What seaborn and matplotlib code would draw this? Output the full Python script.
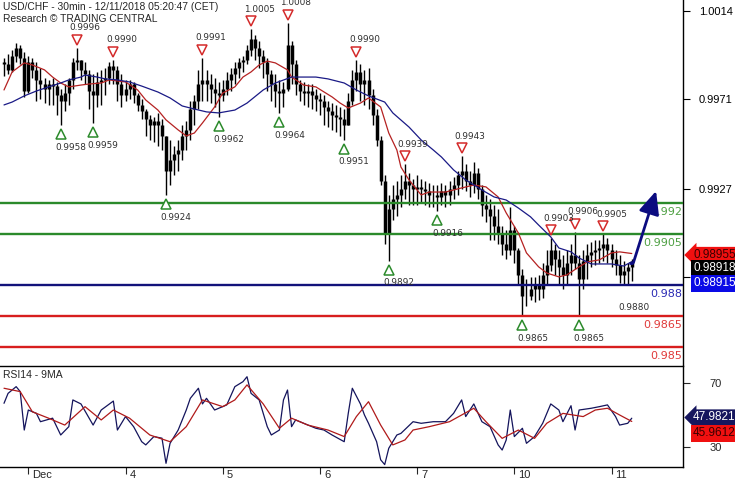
import numpy as np
import matplotlib
matplotlib.use("Agg")
import matplotlib.pyplot as plt
import matplotlib.transforms as mtransforms
import seaborn as sns

# hourly bars, bar 0 = Nov 30 evening
high = [0.9991, 0.9993, 0.9995, 0.9998, 0.9997, 0.9994, 0.9992, 0.9991, 0.9989, 0.9986,
        0.9981, 0.9980, 0.9981, 0.9979, 0.9976, 0.9978, 0.9981, 0.9991, 0.9996, 0.9990,
        0.9989, 0.9985, 0.9983, 0.9984, 0.9985, 0.9986, 0.9989, 0.9990, 0.9987, 0.9983,
        0.9980, 0.9980, 0.9979, 0.9974, 0.9971, 0.9966, 0.9963, 0.9962, 0.9964, 0.9961,
        0.9953, 0.9951, 0.9948, 0.9951, 0.9958, 0.9960, 0.9970, 0.9973, 0.9985, 0.9991,
        0.9985, 0.9983, 0.9981, 0.9979, 0.9980, 0.9984, 0.9986, 0.9989, 0.9991, 0.9992,
        0.9997, 1.0005, 1.0002, 0.9999, 0.9995, 0.9991, 0.9985, 0.9983, 0.9980, 0.9979,
        1.0008, 0.9999, 0.9990, 0.9980, 0.9979, 0.9978, 0.9978, 0.9976, 0.9974, 0.9973,
        0.9970, 0.9969, 0.9968, 0.9967, 0.9966, 0.9974, 0.9985, 0.9990, 0.9988, 0.9985,
        0.9986, 0.9976, 0.9966, 0.9953, 0.9934, 0.9924, 0.9929, 0.9931, 0.9934, 0.9939,
        0.9935, 0.9932, 0.9934, 0.9932, 0.9931, 0.9930, 0.9929, 0.9929, 0.9930, 0.9929,
        0.9931, 0.9933, 0.9936, 0.9943, 0.9939, 0.9936, 0.9940, 0.9937, 0.9929, 0.9924,
        0.9922, 0.9919, 0.9917, 0.9909, 0.9907, 0.9918, 0.9909, 0.9898, 0.9888, 0.9883,
        0.9884, 0.9884, 0.9885, 0.9891, 0.9897, 0.9903, 0.9900, 0.9897, 0.9895, 0.9897,
        0.9900, 0.9906, 0.9895, 0.9897, 0.9900, 0.9901, 0.9902, 0.9902, 0.9905, 0.9903,
        0.9900, 0.9897, 0.9895, 0.9892, 0.9891, 0.9893]
low = [0.9982, 0.9983, 0.9984, 0.9989, 0.9988, 0.9972, 0.9974, 0.9981, 0.9970, 0.9971,
       0.9969, 0.9968, 0.9968, 0.9963, 0.9958, 0.9965, 0.9968, 0.9976, 0.9985, 0.9980,
       0.9978, 0.9966, 0.9959, 0.9967, 0.9968, 0.9973, 0.9978, 0.9978, 0.9970, 0.9967,
       0.9970, 0.9971, 0.9969, 0.9965, 0.9961, 0.9953, 0.9951, 0.9950, 0.9948, 0.9946,
       0.9924, 0.9929, 0.9934, 0.9936, 0.9941, 0.9946, 0.9951, 0.9958, 0.9966, 0.9970,
       0.9970, 0.9969, 0.9967, 0.9962, 0.9970, 0.9973, 0.9975, 0.9978, 0.9981, 0.9984,
       0.9988, 0.9992, 0.9990, 0.9986, 0.9981, 0.9975, 0.9970, 0.9967, 0.9964, 0.9967,
       0.9975, 0.9978, 0.9973, 0.9970, 0.9968, 0.9967, 0.9966, 0.9965, 0.9963, 0.9958,
       0.9957, 0.9956, 0.9955, 0.9953, 0.9951, 0.9958, 0.9968, 0.9975, 0.9970, 0.9968,
       0.9966, 0.9958, 0.9948, 0.9929, 0.9900, 0.9892, 0.9912, 0.9914, 0.9918, 0.9922,
       0.9919, 0.9919, 0.9919, 0.9920, 0.9919, 0.9918, 0.9918, 0.9916, 0.9919, 0.9918,
       0.9919, 0.9922, 0.9924, 0.9927, 0.9926, 0.9923, 0.9925, 0.9922, 0.9914, 0.9911,
       0.9902, 0.9902, 0.9900, 0.9895, 0.9893, 0.9895, 0.9891, 0.9880, 0.9865, 0.9870,
       0.9873, 0.9872, 0.9873, 0.9874, 0.9880, 0.9887, 0.9885, 0.9880, 0.9878, 0.9880,
       0.9885, 0.9888, 0.9865, 0.9878, 0.9883, 0.9889, 0.9890, 0.9891, 0.9892, 0.9891,
       0.9889, 0.9885, 0.9881, 0.9880, 0.9880, 0.9882]
close = [0.9988, 0.9985, 0.9992, 0.9996, 0.9991, 0.9975, 0.9989, 0.9985, 0.9980, 0.9978,
         0.9976, 0.9978, 0.9977, 0.9973, 0.9970, 0.9974, 0.9980, 0.9989, 0.9990, 0.9985,
         0.9983, 0.9975, 0.9973, 0.9979, 0.9980, 0.9981, 0.9987, 0.9985, 0.9978, 0.9973,
         0.9976, 0.9978, 0.9973, 0.9968, 0.9965, 0.9961, 0.9958, 0.9960, 0.9958, 0.9953,
         0.9936, 0.9941, 0.9944, 0.9946, 0.9953, 0.9956, 0.9966, 0.9970, 0.9978, 0.9980,
         0.9978, 0.9976, 0.9974, 0.9973, 0.9976, 0.9980, 0.9983, 0.9986, 0.9989, 0.9990,
         0.9995, 1.0000, 0.9996, 0.9992, 0.9989, 0.9983, 0.9978, 0.9975, 0.9974, 0.9976,
         0.9997, 0.9988, 0.9978, 0.9975, 0.9974, 0.9975, 0.9973, 0.9971, 0.9970, 0.9967,
         0.9965, 0.9963, 0.9962, 0.9961, 0.9958, 0.9970, 0.9980, 0.9984, 0.9978, 0.9980,
         0.9973, 0.9963, 0.9951, 0.9931, 0.9905, 0.9917, 0.9922, 0.9924, 0.9927, 0.9931,
         0.9929, 0.9927, 0.9928, 0.9927, 0.9926, 0.9924, 0.9924, 0.9923, 0.9926, 0.9924,
         0.9927, 0.9929, 0.9934, 0.9936, 0.9931, 0.9929, 0.9935, 0.9927, 0.9919, 0.9917,
         0.9914, 0.9909, 0.9905, 0.9900, 0.9897, 0.9907, 0.9897, 0.9885, 0.9875, 0.9875,
         0.9878, 0.9880, 0.9878, 0.9885, 0.9890, 0.9897, 0.9893, 0.9889, 0.9885, 0.9891,
         0.9895, 0.9891, 0.9883, 0.9892, 0.9895, 0.9896, 0.9897, 0.9898, 0.9900, 0.9897,
         0.9893, 0.9890, 0.9885, 0.9887, 0.9889, 0.98918]
first_open = 0.9989

red_ma_idx = [0, 2, 5, 7, 10, 12, 14, 16, 19, 21, 24, 26, 30, 33, 35, 38, 40, 43, 45, 47,
              49, 52, 54, 57, 59, 61, 63, 65, 67, 70, 71, 74, 77, 81, 83, 85, 88, 90, 93, 95,
              97, 98, 100, 102, 103, 105, 109, 113, 116, 119, 122, 124, 127, 129, 132, 134,
              137, 139, 142, 144, 147, 150, 152, 155]
red_ma = [0.99753, 0.99841, 0.99885, 0.99875, 0.99851, 0.99816, 0.99787, 0.99768, 0.99777, 0.99782,
          0.99787, 0.99802, 0.99792, 0.99753, 0.99704, 0.99655, 0.99607, 0.99558, 0.99529, 0.99543,
          0.99592, 0.99670, 0.99738, 0.99768, 0.99816, 0.99841, 0.99875, 0.99894, 0.99885, 0.99851,
          0.99816, 0.99777, 0.99768, 0.99719, 0.99689, 0.99665, 0.99689, 0.99714, 0.99670, 0.99543,
          0.99460, 0.99377, 0.99314, 0.99265, 0.99241, 0.99255, 0.99255, 0.99275, 0.99289, 0.99280,
          0.99231, 0.99153, 0.99055, 0.98958, 0.98890, 0.98860, 0.98841, 0.98851, 0.98890, 0.98914,
          0.98924, 0.98958, 0.98963, 0.98955]
blue_ma_idx = [0, 2, 5, 8, 11, 14, 16, 19, 20, 23, 25, 28, 31, 34, 38, 41, 44, 47, 50, 53,
               57, 60, 64, 67, 71, 74, 77, 80, 84, 87, 90, 94, 96, 100, 103, 106, 108, 111, 114,
               118, 121, 124, 127, 130, 132, 135, 137, 140, 142, 145, 150, 153, 155]
blue_ma = [0.99680, 0.99694, 0.99724, 0.99748, 0.99768, 0.99787, 0.99802, 0.99816, 0.99826, 0.99816,
           0.99807, 0.99802, 0.99792, 0.99772, 0.99743, 0.99714, 0.99675, 0.99660, 0.99646, 0.99641,
           0.99655, 0.99689, 0.99753, 0.99787, 0.99816, 0.99816, 0.99816, 0.99807, 0.99787, 0.99753,
           0.99724, 0.99694, 0.99641, 0.99572, 0.99509, 0.99460, 0.99426, 0.99363, 0.99314,
           0.99265, 0.99231, 0.99216, 0.99177, 0.99134, 0.99094, 0.99036, 0.98982, 0.98963, 0.98933,
           0.98904, 0.98904, 0.98894, 0.98915]

rsi_idx = [0, 1, 3, 4, 5, 6, 8, 9, 12, 14, 16, 17, 19, 22, 24, 27, 28, 30, 32, 34,
           35, 37, 39, 40, 41, 43, 45, 46, 48, 49, 50, 52, 55, 57, 59, 60, 61, 63, 65, 66,
           68, 69, 70, 71, 72, 74, 77, 79, 81, 84, 85, 86, 88, 89, 90, 92, 93, 94, 95, 97,
           98, 101, 103, 106, 109, 111, 113, 114, 116, 118, 120, 122, 123, 124, 125, 126, 128, 129, 131, 133,
           135, 137, 138, 140, 141, 142, 145, 147, 149, 151, 152, 154, 155]
rsi = [57.3, 63.5, 67.7, 64.6, 40.6, 53.1, 51.0, 45.8, 48.0, 37.5,
       42.7, 59.4, 56.9, 43.7, 53.1, 58.7, 40.6, 49.0, 42.7, 33.3,
       31.3, 36.5, 35.5, 19.8, 32.3, 40.6, 53.1, 60.4, 66.7, 56.9,
       60.4, 53.1, 56.3, 67.7, 70.8, 73.9, 63.5, 59.4, 42.7, 37.5,
       40.6, 59.4, 65.6, 42.7, 46.9, 44.8, 41.7, 40.6, 37.5, 33.3,
       51.0, 66.7, 56.9, 50.0, 44.8, 33.3, 22.0, 19.0, 29.2, 37.5,
       38.5, 45.8, 44.8, 45.8, 45.8, 51.0, 59.4, 49.0, 56.9, 45.8,
       42.7, 31.3, 28.1, 34.4, 53.1, 36.5, 41.7, 32.3, 36.5, 44.8,
       56.9, 53.1, 45.8, 55.8, 40.6, 53.1, 54.2, 55.2, 56.3, 49.0,
       43.7, 44.8, 47.9821]
rsi_ma_idx = [0, 4, 7, 11, 15, 20, 24, 27, 31, 36, 41, 45, 49, 54, 57, 60, 64, 68, 71, 75,
              80, 84, 87, 90, 93, 96, 99, 101, 105, 110, 116, 119, 123, 127, 131, 134, 138, 143,
              146, 149, 152, 155]
rsi_ma = [66.7, 64.6, 52.0, 48.0, 43.7, 55.2, 46.9, 53.1, 48.0, 37.5,
          33.3, 42.7, 59.4, 55.2, 59.4, 68.8, 56.9, 41.7, 48.0, 43.7,
          40.6, 36.5, 49.0, 58.3, 43.7, 31.3, 34.4, 40.6, 42.7, 45.8,
          54.2, 45.8, 35.4, 40.6, 35.4, 44.8, 51.0, 49.0, 53.1, 54.2,
          50.0, 45.9612]

day_idx = [6, 30, 54, 78, 102, 126, 150]
day_labels = ['Dec', '4', '5', '6', '7', '10', '11']

levels = [0.992, 0.9905, 0.988, 0.9865, 0.985]
level_labels = ['0.992', '0.9905', '0.988', '0.9865', '0.985']
level_colors = ['#2b8a2b', '#2b8a2b', '#12127a', '#d81e1e', '#d81e1e']
level_text_colors = ['#4fa044', '#4fa044', '#2a2ab4', '#e03a3a', '#e03a3a']

swing_high_idx = [18, 27, 49, 61, 70, 87, 99, 113, 135, 141, 148]
swing_low_idx = [14, 22, 40, 53, 68, 84, 95, 107, 128, 142]
low_text_idx = [153]

forecast_idx = [154.3, 155.4, 161.0]
forecast_px = [0.9891, 0.9891, 0.9926]

price_ticks = [1.0014, 0.9971, 0.9927, 0.9884]
price_tick_labels = ['1.0014', '0.9971', '0.9927', '']  # last one sits under the value boxes
rsi_ticks = [70, 30]

sns.set_style('white')
plt.rcParams['font.family'] = ['Liberation Sans', 'DejaVu Sans']

fig = plt.figure(figsize=(7.35, 4.8), dpi=100)
ax = fig.add_axes([0, 115 / 480, 683 / 735, 365 / 480])
ax2 = fig.add_axes([0, 13 / 480, 683 / 735, 101 / 480])

n = len(close)
x = np.arange(n)
opens = np.array([first_open] + close[:-1])
closes = np.array(close)

# candles
ax.vlines(x, low, high, color='black', lw=1.0, zorder=2)
ax.vlines(x, np.minimum(opens, closes), np.maximum(opens, closes), color='black', lw=2.5, zorder=2)

# support / resistance
for lv, lc in zip(levels, level_colors):
    ax.axhline(lv, color=lc, lw=1.7, zorder=3)
for lv, lab, tc in zip(levels, level_labels, level_text_colors):
    ax.annotate(lab, xy=(1, lv), xycoords=('axes fraction', 'data'), xytext=(-1, -9),
                textcoords='offset pixels', ha='right', va='center', fontsize=8,
                family='DejaVu Sans', color=tc, zorder=4)

sns.lineplot(x=red_ma_idx, y=red_ma, ax=ax, color='#b52222', lw=0.9, sort=False, estimator=None, zorder=3)
sns.lineplot(x=blue_ma_idx, y=blue_ma, ax=ax, color='#1a1a86', lw=0.9, sort=False, estimator=None, zorder=3)

# swing markers
up = mtransforms.offset_copy(ax.transData, fig=fig, x=0, y=8, units='dots')
dn = mtransforms.offset_copy(ax.transData, fig=fig, x=0, y=-9, units='dots')
hv = [high[i] for i in swing_high_idx]
lv_ = [low[i] for i in swing_low_idx]
ax.plot(swing_high_idx, hv, ls='none', marker='v', ms=7.5, mfc='white', mec='#d42a2a', mew=1.1,
        transform=up, zorder=5)
ax.plot(swing_low_idx, lv_, ls='none', marker='^', ms=7.5, mfc='white', mec='#2b8a2b', mew=1.1,
        transform=dn, zorder=5)
for i, v in zip(swing_high_idx, hv):
    ax.annotate(f'{v:.4f}', xy=(i, v), xytext=(8, 20), textcoords='offset pixels', ha='center',
                va='center', fontsize=6.4, family='DejaVu Sans', color='#303030', zorder=5)
for i in swing_low_idx + low_text_idx:
    ax.annotate(f'{low[i]:.4f}', xy=(i, low[i]), xytext=(10, -22), textcoords='offset pixels',
                ha='center', va='center', fontsize=6.4, family='DejaVu Sans', color='#303030', zorder=5)

# forecast arrow
ax.plot(forecast_idx[:2], forecast_px[:2], color='#0c0c80', lw=2.0, zorder=4, solid_capstyle='butt')
ax.annotate('', xy=(forecast_idx[2], forecast_px[2]), xytext=(forecast_idx[1], forecast_px[1]),
            arrowprops=dict(arrowstyle='-|>,head_width=0.45,head_length=1.0', color='#0c0c80',
                            lw=2.0, mutation_scale=14, shrinkA=0, shrinkB=0), zorder=4)

ax.set_xlim(-0.99, 167.65)
ax.set_ylim(0.98411, 1.00192)
ax.set_xticks([])
ax.set_yticks(price_ticks)
ax.set_yticklabels(price_tick_labels)
ax.yaxis.tick_right()
ax.tick_params(axis='y', direction='out', length=5, width=0.8, pad=18.5, labelsize=8, colors='black')
for t in ax.get_yticklabels():
    t.set_horizontalalignment('center')
for s in ['top', 'left', 'bottom']:
    ax.spines[s].set_visible(False)
ax.spines['right'].set_color('black')
ax.spines['right'].set_linewidth(1)

# RSI panel
sns.lineplot(x=rsi_idx, y=rsi, ax=ax2, color='#14145c', lw=0.9, sort=False, estimator=None)
sns.lineplot(x=rsi_ma_idx, y=rsi_ma, ax=ax2, color='#b01a1a', lw=0.9, sort=False, estimator=None)
ax2.set_xlim(-0.99, 167.65)
ax2.set_ylim(17.5, 80.6)
ax2.set_yticks(rsi_ticks)
ax2.set_yticklabels([str(t) for t in rsi_ticks])
ax2.yaxis.tick_right()
ax2.tick_params(axis='y', direction='out', length=5, width=0.8, pad=18.5, labelsize=8)
for t in ax2.get_yticklabels():
    t.set_horizontalalignment('center')
ax2.set_xticks(day_idx)
ax2.set_xticklabels(day_labels)
ax2.tick_params(axis='x', direction='out', length=5, width=0.8, pad=-2.5, labelsize=8, bottom=True)
shift = mtransforms.ScaledTranslation(0.04, 0, fig.dpi_scale_trans)
for t in ax2.get_xticklabels():
    t.set_horizontalalignment('left')
    t.set_transform(t.get_transform() + shift)
ax2.spines['left'].set_visible(False)
for s in ['top', 'bottom', 'right']:
    ax2.spines[s].set_color('black')
    ax2.spines[s].set_linewidth(1)
ax2.set_xlabel('')
ax2.set_ylabel('')
ax.set_xlabel('')
ax.set_ylabel('')
ax2.text(3 / 683, 0.91, 'RSI14 - 9MA', transform=ax2.transAxes, fontsize=7.5, va='center', ha='left')

# header
fig.text(3 / 735, 1 - 6.5 / 480, 'USD/CHF - 30min - 12/11/2018 05:20:47 (CET)', fontsize=7.4, va='center', ha='left')
fig.text(3 / 735, 1 - 18.5 / 480, 'Research \u00a9 TRADING CENTRAL', fontsize=7.4, va='center', ha='left')

# last value boxes
def box(ypx, txt, fc, tc, arrow=False):
    style = 'larrow,pad=0.18' if arrow else 'square,pad=0.18'
    fig.text(693 / 735, 1 - ypx / 480, txt, fontsize=8.5, color=tc, va='center', ha='left',
             bbox=dict(boxstyle=style, fc=fc, ec='none'), zorder=10)

box(255, f'{red_ma[-1]:.5f}', '#f01010', '#3a0000', arrow=True)
box(268, f'{close[-1]:.5f}', 'black', 'white')
box(283.5, f'{blue_ma[-1]:.5f}', '#0a0ae6', 'white')
box(417.5, f'{rsi[-1]:.4f}', '#16165e', 'white', arrow=True)
box(433.5, f'{rsi_ma[-1]:.4f}', '#f01010', '#3a0000')

fig.savefig('out.png', dpi=100)
